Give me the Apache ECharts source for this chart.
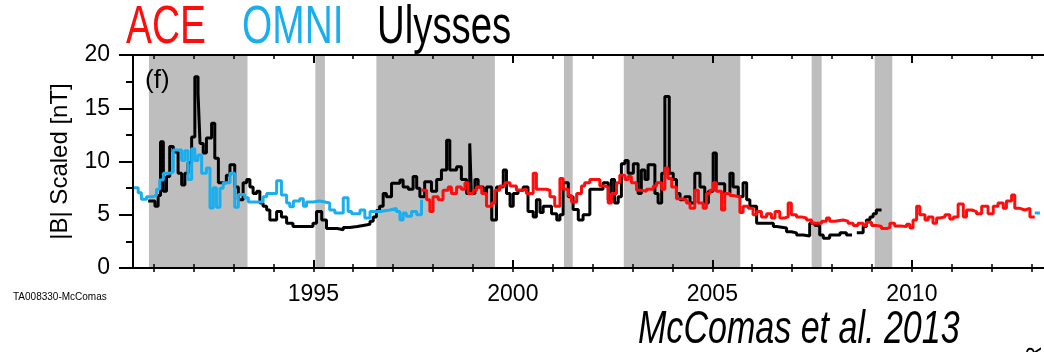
<!DOCTYPE html>
<html><head><meta charset="utf-8">
<script src="https://cdn.jsdelivr.net/npm/echarts@6/dist/echarts.min.js"></script>
<style>html,body{margin:0;padding:0;background:#fff}#c{width:1044px;height:352px}</style>
</head><body><div id="c"></div>
<script>
// ---- tick labels / axis data ----
const majorYears = [1995, 2000, 2005, 2010];
const minorYears = [1991,1992,1993,1994,1995,1996,1997,1998,1999,2000,2001,2002,2003,2004,2005,2006,2007,2008,2009,2010,2011,2012,2013];
const yTicks = [0, 5, 10, 15, 20];

// ---- shaded intervals (start year, end year) ----
const bands = [[1990.88,1993.35],[1995.05,1995.29],[1996.58,1999.55],[2001.28,2001.50],[2002.78,2005.70],[2007.49,2007.74],[2009.07,2009.51]];

// ---- Ulysses ----
const ulyssesT = [1990.86,1991.03,1991.11,1991.17,1991.24,1991.32,1991.40,1991.49,1991.61,1991.70,1991.78,1991.86,1991.95,1992.03,1992.11,1992.16,1992.24,1992.32,1992.45,1992.53,1992.62,1992.82,1992.91,1993.03,1993.12,1993.24,1993.33,1993.41,1993.49,1993.58,1993.66,1993.74,1993.83,1993.91,1994.08,1994.20,1994.33,1994.49,1994.99,1995.08,1995.21,1995.33,1995.60,1995.75,1995.91,1996.10,1996.25,1996.42,1996.50,1996.58,1996.66,1996.75,1996.83,1996.96,1997.17,1997.25,1997.38,1997.50,1997.59,1997.67,1997.79,1997.96,1998.09,1998.21,1998.34,1998.42,1998.59,1998.71,1998.84,1998.92,1998.96,1999.05,1999.13,1999.26,1999.34,1999.47,1999.59,1999.76,1999.84,1999.93,2000.01,2000.13,2000.26,2000.38,2000.51,2000.59,2000.68,2000.76,2000.97,2001.10,2001.18,2001.26,2001.39,2001.51,2001.64,2001.76,2001.93,2002.26,2002.39,2002.47,2002.55,2002.64,2002.72,2002.81,2002.89,2003.02,2003.14,2003.22,2003.31,2003.39,2003.56,2003.64,2003.73,2003.81,2003.92,2004.02,2004.10,2004.19,2004.31,2004.44,2004.56,2004.69,2004.81,2004.90,2005.02,2005.10,2005.31,2005.44,2005.52,2005.65,2005.77,2005.86,2005.94,2006.11,2006.53,2006.61,2006.86,2006.98,2007.11,2007.28,2007.44,2007.57,2007.69,2007.78,2007.94,2008.20,2008.36,2008.48,2008.50,2008.62,2008.78,2008.86,2008.95,2009.03,2009.11,2009.24];
const ulyssesB = [6.3,5.8,6.8,11.86,7.2,8.6,11.4,10.9,8.9,7.8,8.9,9.9,12.3,17.96,16.4,11.7,10.8,12.2,13.6,10.3,8.0,8.7,9.7,7.6,6.4,8.0,8.3,7.6,7.0,7.2,6.1,5.8,5.45,4.5,5.3,4.8,4.2,3.9,4.2,5.3,4.5,3.7,3.6,3.8,3.9,4.0,4.1,4.4,4.8,5.4,5.8,7.0,6.7,7.95,8.26,7.6,7.4,8.6,7.5,6.7,8.1,7.2,8.3,9.2,12.0,9.2,9.5,8.3,7.0,11.7,7.0,8.3,7.6,7.0,7.6,4.5,7.6,9.2,7.0,5.8,7.0,7.3,7.6,5.3,4.8,6.4,5.2,5.8,5.1,4.5,5.0,8.0,6.7,5.5,4.5,5.0,7.4,8.0,6.4,8.3,6.1,6.7,9.8,10.1,8.9,9.8,7.0,9.2,8.3,9.7,7.0,6.1,8.9,16.1,8.9,8.3,7.0,6.4,6.7,6.1,8.9,7.6,6.1,7.2,10.8,7.9,7.0,8.9,7.6,6.7,8.0,6.4,5.8,4.2,3.9,3.75,3.4,3.3,3.1,3.0,4.2,4.0,3.1,2.8,3.1,3.3,3.1,3.1,null,3.3,3.9,4.5,4.8,5.1,5.45,5.45];

// ---- OMNI ----
const omniT = [1990.48,1990.61,1990.69,1990.82,1990.99,1991.07,1991.15,1991.24,1991.40,1991.49,1991.70,1991.78,1991.86,1991.95,1992.03,1992.11,1992.20,1992.32,1992.41,1992.49,1992.57,1992.66,1992.74,1992.91,1993.03,1993.12,1993.28,1993.37,1993.74,1993.83,1994.08,1994.20,1994.33,1994.41,1994.50,1994.66,1994.75,1994.83,1995.00,1995.15,1995.29,1995.41,1995.54,1995.75,1995.87,1995.96,1996.17,1996.29,1996.42,1996.67,1996.92,1997.08,1997.17,1997.25,1997.33,1997.46,1997.59,1997.71,1997.72,2013.08,2013.21];
const omniB = [7.54,7.07,6.45,6.7,6.85,7.4,8.26,8.9,9.0,11.08,10.1,11.0,8.3,11.2,10.1,10.6,8.9,9.4,5.63,7.54,5.7,7.5,8.0,8.9,5.7,6.9,6.6,6.2,6.7,7.0,8.2,6.85,6.1,5.76,6.3,6.5,5.8,6.2,6.3,6.2,6.1,5.45,5.16,6.6,5.3,5.1,5.45,4.7,5.3,5.45,5.6,5.3,4.5,5.16,4.85,5.3,5.0,6.4,null,5.16,5.16];

// ---- ACE ----
const aceT = [1997.71,1997.84,1997.92,1998.00,1998.13,1998.25,1998.38,1998.46,1998.59,1998.71,1998.80,1998.88,1999.01,1999.09,1999.22,1999.34,1999.47,1999.55,1999.67,1999.80,1999.93,2000.09,2000.22,2000.34,2000.51,2000.59,2000.84,2000.93,2001.05,2001.18,2001.26,2001.39,2001.47,2001.60,2001.72,2001.80,2001.93,2002.18,2002.31,2002.39,2002.47,2002.60,2002.68,2002.81,2002.89,2002.97,2003.10,2003.22,2003.35,2003.52,2003.60,2003.73,2003.81,2003.89,2003.98,2004.10,2004.23,2004.35,2004.44,2004.56,2004.65,2004.77,2004.85,2004.94,2005.02,2005.10,2005.23,2005.31,2005.44,2005.52,2005.69,2005.77,2005.90,2006.02,2006.11,2006.23,2006.36,2006.48,2006.57,2006.69,2006.82,2006.90,2006.98,2007.11,2007.23,2007.36,2007.49,2007.74,2007.86,2007.94,2008.07,2008.28,2008.40,2008.53,2008.65,2008.78,2008.86,2008.99,2009.11,2009.24,2009.37,2009.45,2009.57,2009.70,2009.87,2009.95,2010.03,2010.12,2010.20,2010.33,2010.41,2010.53,2010.62,2010.70,2010.83,2010.95,2011.04,2011.16,2011.29,2011.37,2011.50,2011.62,2011.75,2011.91,2012.04,2012.16,2012.29,2012.37,2012.50,2012.58,2012.71,2012.83,2012.96,2013.08];
const aceB = [7.3,6.4,5.3,6.7,6.4,7.3,7.6,7.0,7.6,7.4,8.0,7.0,7.3,7.6,7.0,5.8,6.1,7.3,7.7,8.0,7.7,7.3,7.4,7.0,8.9,7.4,7.3,6.7,5.8,8.4,7.4,6.8,6.2,7.0,7.7,8.0,8.3,7.7,7.6,6.1,7.0,8.0,8.7,8.3,8.6,8.0,7.3,7.2,7.4,7.7,8.0,7.4,9.4,8.4,7.6,6.5,6.4,6.1,5.6,7.3,6.1,5.6,7.0,7.3,8.0,7.2,5.45,7.0,6.8,6.7,5.2,5.8,5.6,5.0,5.3,4.8,5.1,4.7,5.3,4.7,4.8,6.1,5.0,4.8,4.7,4.5,4.2,4.4,4.7,4.4,4.5,4.4,4.2,4.0,4.2,4.0,4.3,4.0,3.9,3.7,3.8,4.2,3.95,3.9,4.1,3.75,4.5,5.8,5.0,4.5,4.8,4.2,4.7,4.8,5.0,4.6,4.8,6.0,4.8,5.45,5.3,5.1,5.8,5.1,5.8,6.1,5.6,6.3,6.85,5.6,5.45,5.6,4.8,4.8];

const FONT = '"Liberation Sans", Helvetica, Arial, sans-serif';
const X_MIN = 1990.48, X_MAX = 2013.5;
const zip = (t, v) => t.map((x, i) => [x, v[i]]);

const chart = echarts.init(document.getElementById('c'), null, {renderer: 'canvas'});

const baseX = {type: 'value', min: X_MIN, max: X_MAX, gridIndex: 0, splitLine: {show: false}, z: 10};
const black = '#000';

const option = {
  animation: false,
  backgroundColor: '#fff',
  grid: {left: 133, top: 55, width: 918.5, height: 213, outerBoundsMode: 'none', containLabel: false},
  xAxis: [
    Object.assign({}, baseX, {position: 'bottom',
      axisLine: {show: true, onZero: false, lineStyle: {color: black, width: 2}},
      axisTick: {show: true, customValues: majorYears, inside: true, length: 8, lineStyle: {color: black, width: 2}},
      axisLabel: {show: true, customValues: majorYears, margin: 15, fontSize: 23, color: black, fontFamily: FONT,
        formatter: v => String(Math.round(v))}}),
    Object.assign({}, baseX, {position: 'bottom',
      axisLine: {show: false},
      axisTick: {show: true, customValues: minorYears, inside: true, length: 4, lineStyle: {color: black, width: 1.5}},
      axisLabel: {show: false}}),
    Object.assign({}, baseX, {position: 'bottom',
      axisLine: {show: false},
      axisTick: {show: true, customValues: minorYears, inside: false, length: 4, lineStyle: {color: black, width: 1.5}},
      axisLabel: {show: false}}),
    Object.assign({}, baseX, {position: 'top',
      axisLine: {show: true, onZero: false, lineStyle: {color: black, width: 2}},
      axisTick: {show: true, customValues: majorYears, inside: true, length: 8, lineStyle: {color: black, width: 2}},
      axisLabel: {show: false}}),
    Object.assign({}, baseX, {position: 'top',
      axisLine: {show: false},
      axisTick: {show: true, customValues: minorYears, inside: true, length: 4, lineStyle: {color: black, width: 1.5}},
      axisLabel: {show: false}})
  ],
  yAxis: [{
    type: 'value', min: 0, max: 20, interval: 5, position: 'left', z: 10,
    axisLine: {show: true, onZero: false, lineStyle: {color: black, width: 2}},
    axisTick: {show: true, inside: false, length: 14, lineStyle: {color: black, width: 2}},
    minorTick: {show: true, splitNumber: 2, length: 7, lineStyle: {color: black, width: 2}},
    splitLine: {show: false}, minorSplitLine: {show: false},
    axisLabel: {fontSize: 23, margin: 23, color: black, fontFamily: FONT,
      customValues: yTicks},
    name: '|B| Scaled [nT]', nameLocation: 'middle', nameGap: 61,
    nameTextStyle: {fontSize: 24, color: black, fontFamily: FONT}
  }],
  series: [
    {name: 'bands', type: 'line', data: [], silent: true, z: 1,
      markArea: {silent: true, itemStyle: {color: '#bebebe', opacity: 1},
        data: bands.map(b => [{xAxis: b[0]}, {xAxis: b[1]}])}},
    {name: 'Ulysses', type: 'line', step: 'end', data: zip(ulyssesT, ulyssesB), showSymbol: false, symbol: 'none',
      connectNulls: false, lineStyle: {color: '#000', width: 3}, z: 3},
    {name: 'OMNI', type: 'line', step: 'end', data: zip(omniT, omniB), showSymbol: false, symbol: 'none',
      connectNulls: false, lineStyle: {color: '#1aaeee', width: 3}, z: 4},
    {name: 'ACE', type: 'line', step: 'end', data: zip(aceT, aceB), showSymbol: false, symbol: 'none',
      connectNulls: false, lineStyle: {color: '#ff0d0d', width: 3}, z: 5}
  ],
  graphic: [
    {type: 'text', x: 126, y: 28, scaleX: 0.72, silent: true,
      style: {text: 'ACE', x: 0, y: 0, fill: '#ff0d0d', font: '54px ' + FONT, textAlign: 'left', verticalAlign: 'middle'}},
    {type: 'text', x: 242, y: 28, scaleX: 0.72, silent: true,
      style: {text: 'OMNI', x: 0, y: 0, fill: '#1aaeee', font: '54px ' + FONT, textAlign: 'left', verticalAlign: 'middle'}},
    {type: 'text', x: 377, y: 28, scaleX: 0.71, silent: true,
      style: {text: 'Ulysses', x: 0, y: 0, fill: '#000', font: '54px ' + FONT, textAlign: 'left', verticalAlign: 'middle'}},
    {type: 'text', x: 145, y: 81, silent: true, z: 20,
      style: {text: '(f)', x: 0, y: 0, fill: '#000', font: '26px ' + FONT, textAlign: 'left', verticalAlign: 'middle'}},
    {type: 'text', x: 638, y: 330, scaleX: 0.74, silent: true,
      style: {text: 'McComas et al. 2013', x: 0, y: 0, fill: '#000', font: 'italic 46px ' + FONT, textAlign: 'left', verticalAlign: 'middle'}},
    {type: 'text', x: 13, y: 297, silent: true,
      style: {text: 'TA008330-McComas', x: 0, y: 0, fill: '#000', font: '10px ' + FONT, textAlign: 'left', verticalAlign: 'middle'}},
    {type: 'text', x: 1035, y: 362, rotation: Math.PI / 2, silent: true,
      style: {text: 'R', x: 0, y: 0, fill: '#000', font: '22px ' + FONT, textAlign: 'left', verticalAlign: 'middle'}}
  ]
};
chart.setOption(option);
</script>
</body></html>
